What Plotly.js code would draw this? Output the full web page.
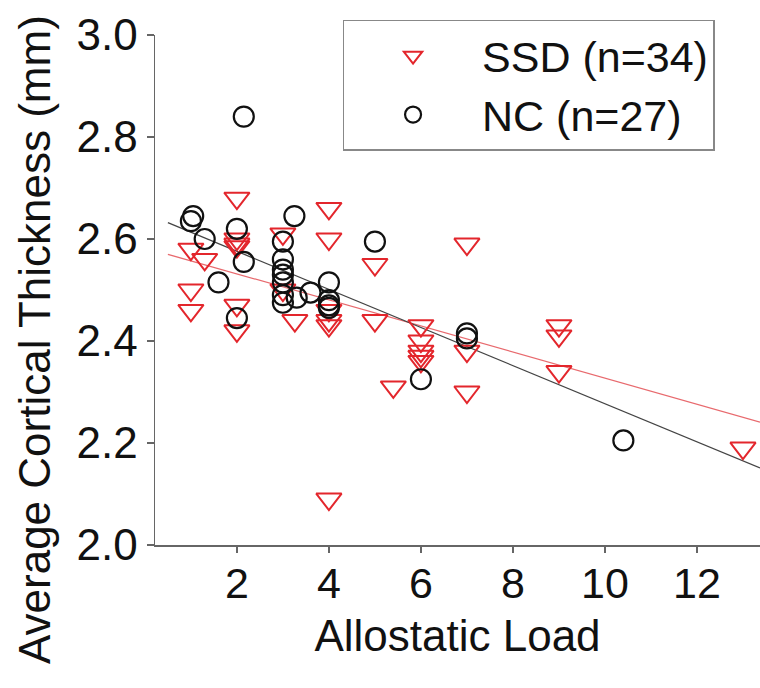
<!DOCTYPE html>
<html>
<head>
<meta charset="utf-8">
<script src="https://cdn.plot.ly/plotly-3.0.1.min.js"></script>
<style>html,body{margin:0;padding:0;background:#fff;}#chart{width:760px;height:688px;}</style>
</head>
<body>
<div id="chart"></div>
<script>
// SSD group (red down-triangles)
const ssdX = [1.0, 1.3, 1.0, 1.0, 2.0, 2.0, 2.0, 2.0, 2.0, 3.0, 3.26, 4.0, 4.0, 4.0, 4.0, 4.0, 5.0, 5.0, 5.4, 6.0, 6.0, 6.0, 6.0, 6.0, 7.0, 7.0, 7.0, 9.0, 9.0, 9.0, 13.0, 3.0, 4.0, 2.0];
const ssdY = [2.58, 2.56, 2.50, 2.46, 2.68, 2.60, 2.585, 2.47, 2.42, 2.61, 2.44, 2.66, 2.60, 2.44, 2.43, 2.09, 2.55, 2.44, 2.31, 2.43, 2.40, 2.38, 2.37, 2.36, 2.59, 2.38, 2.30, 2.43, 2.41, 2.34, 2.19, 2.50, 2.46, 2.59];
// NC group (black circles)
const ncX = [2.15, 1.05, 1.0, 1.3, 2.0, 2.15, 1.6, 2.0, 3.25, 3.0, 3.0, 3.0, 3.0, 3.0, 3.0, 3.3, 3.6, 4.0, 4.0, 4.0, 5.0, 6.0, 7.0, 7.0, 10.4, 3.0, 4.0];
const ncY = [2.84, 2.645, 2.635, 2.60, 2.62, 2.555, 2.515, 2.445, 2.645, 2.595, 2.56, 2.54, 2.515, 2.49, 2.475, 2.485, 2.495, 2.515, 2.48, 2.465, 2.595, 2.325, 2.415, 2.405, 2.205, 2.53, 2.47];
// Regression lines (end points)
const fitX = [0.5, 13.37];
const ssdFitY = [2.570, 2.241];
const ncFitY = [2.632, 2.151];
// Labels
const legendNames = ['SSD (n=34)', 'NC (n=27)'];
const xTitle = 'Allostatic Load';
const yTitle = 'Average Cortical Thickness (mm)';
const xTicks = [2, 4, 6, 8, 10, 12];
const yTicks = [2.0, 2.2, 2.4, 2.6, 2.8, 3.0];

const FONT = 'Liberation Sans, Arial, sans-serif';
const RED = '#e3262c';

const traces = [
  {x: fitX, y: ssdFitY, mode: 'lines', line: {color: '#e86a6e', width: 1.2}, showlegend: false, hoverinfo: 'skip'},
  {x: fitX, y: ncFitY, mode: 'lines', line: {color: '#444', width: 1.3}, showlegend: false, hoverinfo: 'skip'},
  {x: ssdX, y: ssdY, mode: 'markers', name: legendNames[0],
   marker: {symbol: 'triangle-down-open', size: 22, color: RED, line: {color: RED, width: 2}}},
  {x: ncX, y: ncY, mode: 'markers', name: legendNames[1],
   marker: {symbol: 'circle-open', size: 20, color: '#111', line: {color: '#111', width: 2.2}}}
];

const layout = {
  width: 760, height: 688,
  margin: {l: 155, r: 0, t: 35, b: 143},
  paper_bgcolor: '#fff', plot_bgcolor: '#fff',
  font: {family: FONT, color: '#111', size: 44},
  showlegend: true,
  legend: {x: 0.31, y: 1.03, xanchor: 'left', yanchor: 'top', bgcolor: '#fff',
           bordercolor: '#888', borderwidth: 1.5, font: {family: FONT, size: 43, color: '#111'},
           itemwidth: 128, tracegroupgap: 0},
  xaxis: {range: [0.22, 13.37], showline: true, linecolor: '#666', linewidth: 1.5,
          ticks: 'outside', ticklen: 6, tickcolor: '#666', tickwidth: 1.5,
          tickvals: xTicks, ticktext: xTicks.map(String), showgrid: false, zeroline: false,
          tickfont: {family: FONT, size: 43, color: '#111'}, ticklabelstandoff: -6,
          title: {text: xTitle, font: {family: FONT, size: 44, color: '#111'}, standoff: 14}},
  yaxis: {range: [2.0, 3.0], showline: true, linecolor: '#666', linewidth: 1.5,
          ticks: 'outside', ticklen: 7, tickcolor: '#666', tickwidth: 1.5,
          tickvals: yTicks, ticktext: yTicks.map(v => v.toFixed(1)), showgrid: false, zeroline: false,
          tickfont: {family: FONT, size: 44, color: '#111'}},
  annotations: [{text: yTitle, textangle: -90, xref: 'paper', yref: 'paper',
                 x: (34 - 155) / 605, y: (545 - 340) / 510, xanchor: 'center', yanchor: 'middle',
                 showarrow: false, font: {family: FONT, size: 44, color: '#111'}}]
};

Plotly.newPlot('chart', traces, layout, {displayModeBar: false, staticPlot: true});
</script>
</body>
</html>
